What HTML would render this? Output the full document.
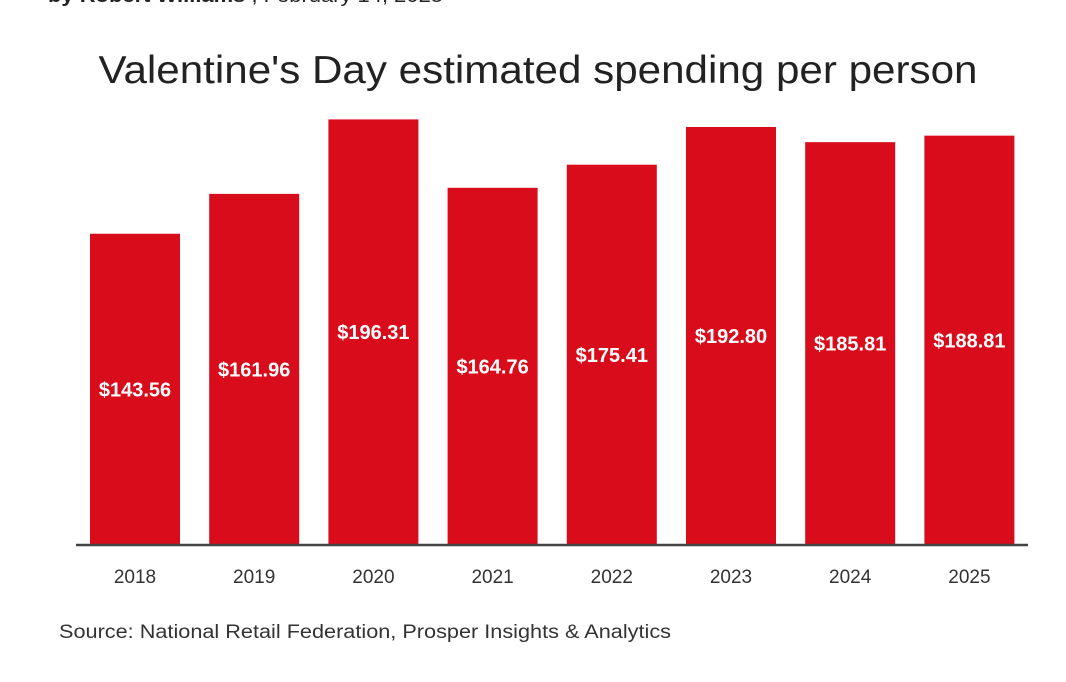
<!DOCTYPE html>
<html><head><meta charset="utf-8"><style>
html,body{margin:0;padding:0;background:#fff;}
svg{display:block;font-family:"Liberation Sans",sans-serif;}
</style></head><body>
<svg id="chart" width="1066" height="682" viewBox="0 0 1066 682" xmlns="http://www.w3.org/2000/svg">
<text x="48" y="2" font-size="19" fill="#222" textLength="395" lengthAdjust="spacingAndGlyphs"><tspan font-weight="bold">by Robert Williams</tspan> , February 14, 2025</text>
<text x="538" y="83" text-anchor="middle" font-size="39" fill="#222" textLength="879" lengthAdjust="spacingAndGlyphs">Valentine's Day estimated spending per person</text>
<g id="bars"></g>
<line x1="76" y1="545" x2="1028" y2="545" stroke="#444" stroke-width="2.5"/>
<g id="xlabels"></g>
<text x="59" y="638" font-size="19" fill="#333" textLength="612" lengthAdjust="spacingAndGlyphs">Source: National Retail Federation, Prosper Insights &amp; Analytics</text>
</svg>
<script>
const categories = ["2018","2019","2020","2021","2022","2023","2024","2025"];
const values = [143.56,161.96,196.31,164.76,175.41,192.80,185.81,188.81];
const valueLabels = ["$143.56","$161.96","$196.31","$164.76","$175.41","$192.80","$185.81","$188.81"];
const NS = "http://www.w3.org/2000/svg";
const baseY = 545, pxPerUnit = 2.168, x0 = 90, pitch = 119.2, bw = 90;
function xPos(i){ return x0 + i*pitch; }
function yPos(v){ return baseY - v*pxPerUnit; }
const gb = document.getElementById('bars'), gl = document.getElementById('xlabels');
categories.forEach((c,i)=>{
  const r = document.createElementNS(NS,'rect');
  
  
  r.setAttribute('x', xPos(i)); r.setAttribute('y', yPos(values[i]));
  r.setAttribute('width', bw); r.setAttribute('height', baseY - yPos(values[i]));
  r.setAttribute('fill', '#d80c1b');
  gb.appendChild(r);
  const t = document.createElementNS(NS,'text');
  
  
  t.setAttribute('x', xPos(i)+bw/2); t.setAttribute('y', (yPos(values[i])+baseY)/2 + 7);
  t.setAttribute('text-anchor','middle'); t.setAttribute('font-size','20');
  t.setAttribute('font-weight','bold'); t.setAttribute('fill','#fff');
  t.textContent = valueLabels[i];
  gb.appendChild(t);
  const l = document.createElementNS(NS,'text');
  
  
  l.setAttribute('x', xPos(i)+bw/2); l.setAttribute('y', 583);
  l.setAttribute('text-anchor','middle'); l.setAttribute('font-size','19'); l.setAttribute('fill','#333');
  l.textContent = c;
  gl.appendChild(l);
});
</script>
</body></html>
